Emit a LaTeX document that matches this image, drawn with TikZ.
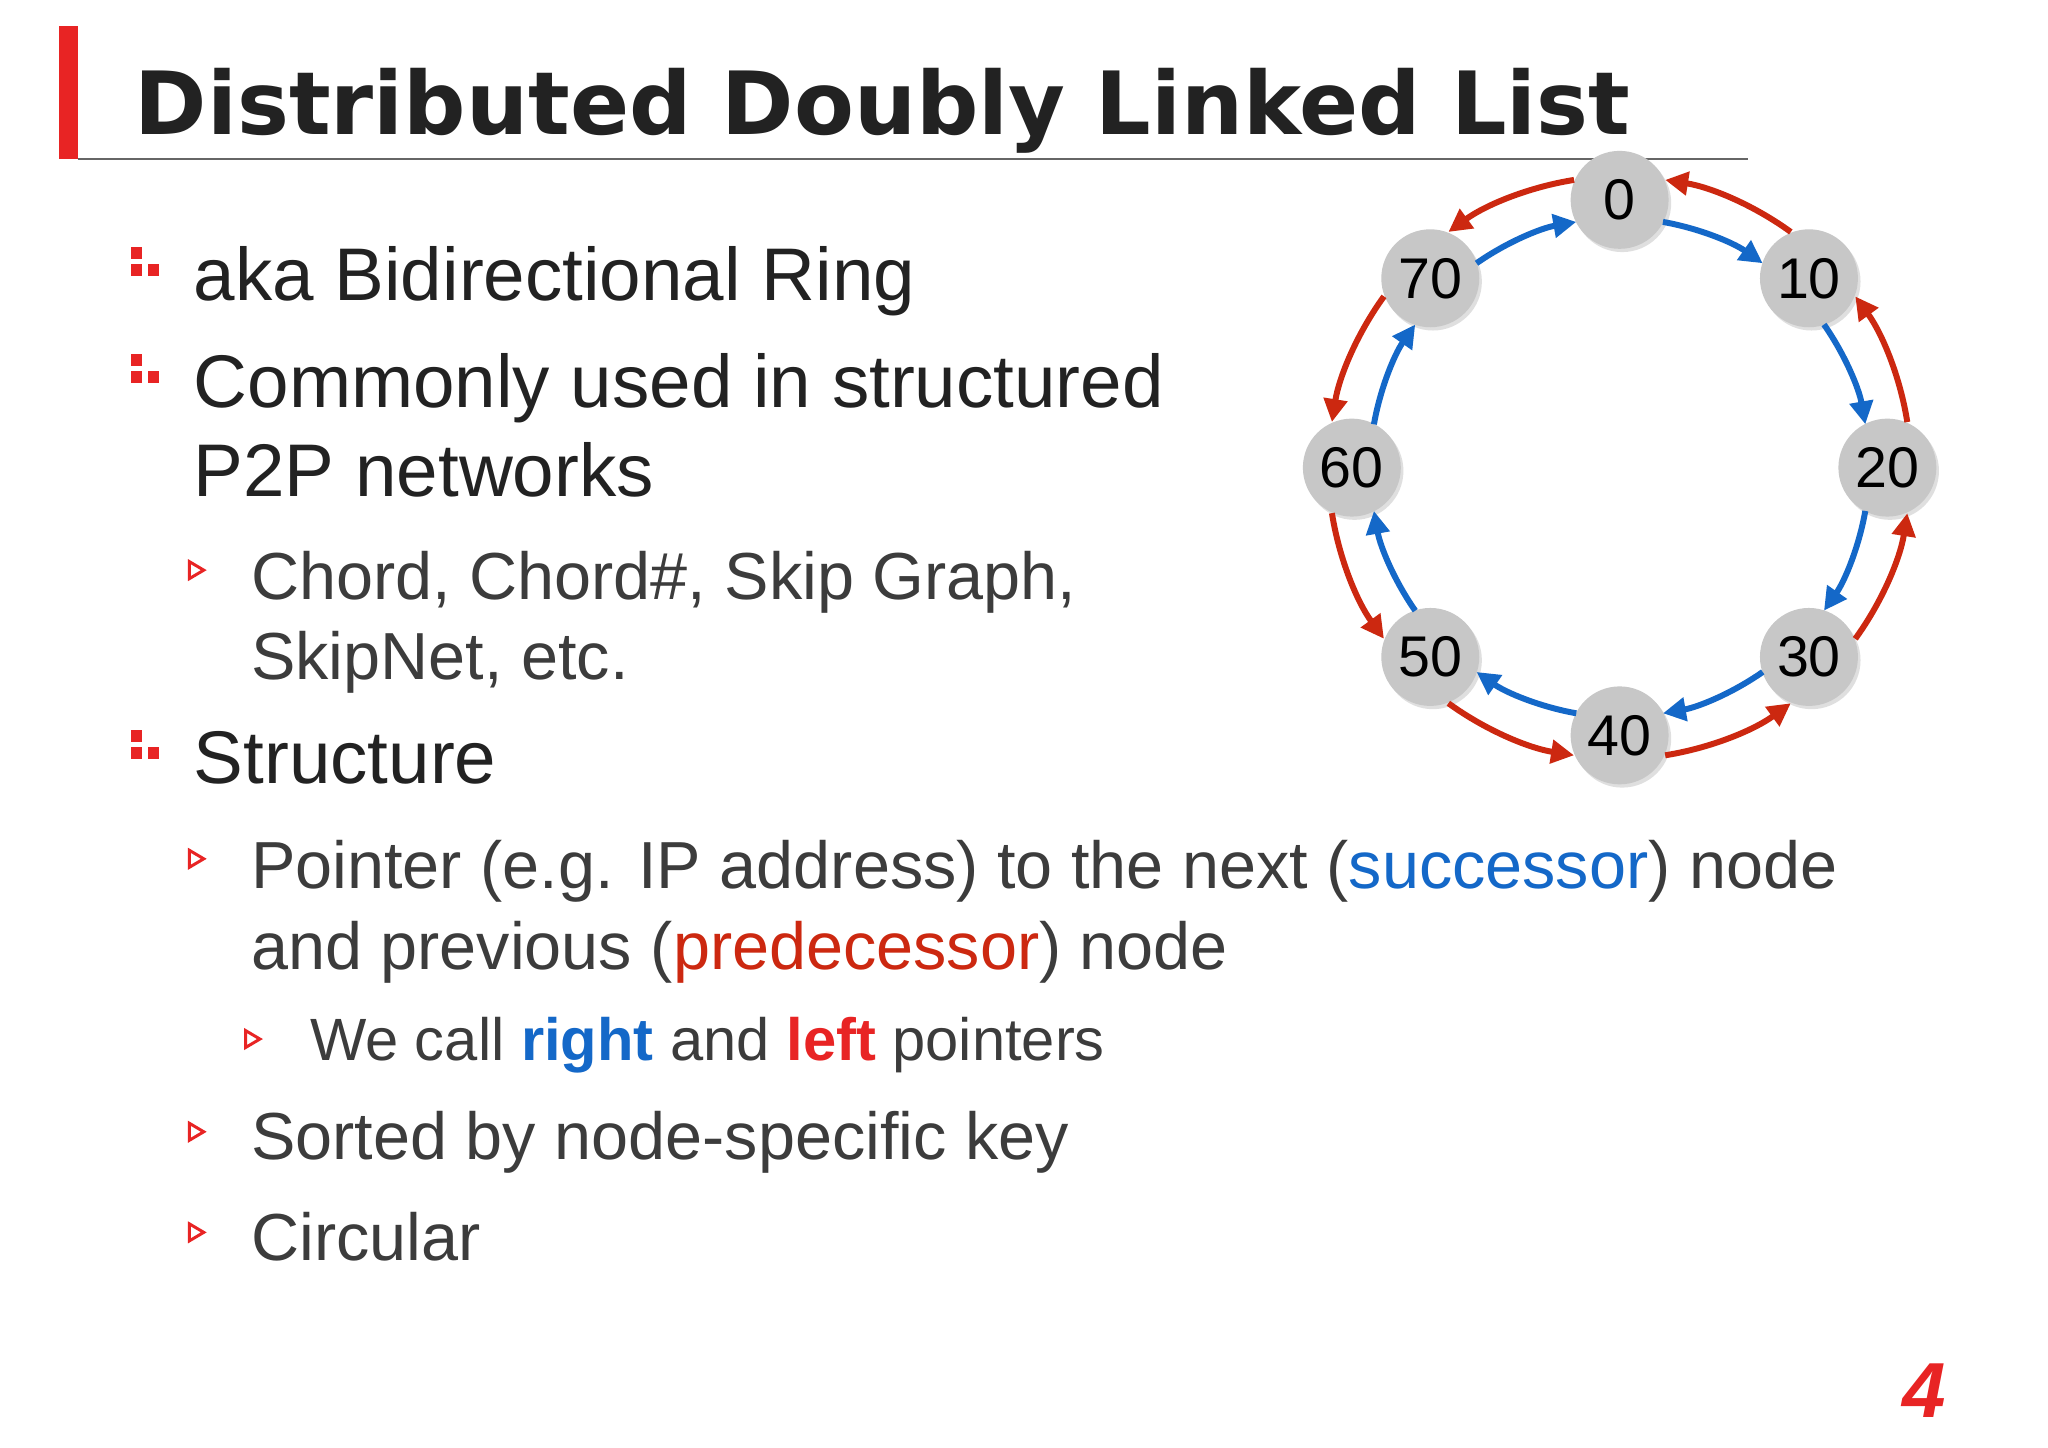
\documentclass[tikz,border=0pt]{standalone}
\usepackage{fontspec}
\setmainfont{Liberation Sans}
\newfontfamily\titlefont{DejaVu Sans}
\usetikzlibrary{arrows.meta,shadows,calc}
\definecolor{myred}{RGB}{204,40,16}
\definecolor{myblue}{RGB}{20,104,200}
\definecolor{bred}{RGB}{232,36,36}
\definecolor{txtA}{RGB}{34,34,34}
\definecolor{txtB}{RGB}{60,60,60}
\tikzset{
 ringnode/.style={circle,fill=black!22,minimum size=1.5cm,inner sep=0pt,font=\fontsize{25}{25}\selectfont,drop shadow={shadow xshift=0.04cm,shadow yshift=-0.05cm,opacity=0.25}},
 succ/.style={myblue,line width=2.6pt,-{Triangle[length=10pt,width=10pt]}},
 pred/.style={myred,line width=2.6pt,-{Triangle[length=10pt,width=10pt]}},
 lone/.style={anchor=base west,inner sep=0pt,text=txtA,font=\fontsize{32.5}{32.5}\selectfont},
 ltwo/.style={anchor=base west,inner sep=0pt,text=txtB,font=\fontsize{29}{29}\selectfont},
 lthree/.style={anchor=base west,inner sep=0pt,text=txtB,font=\fontsize{26}{26}\selectfont},
 sq/.style={fill=bred,draw=none},
 tri/.style={draw=bred,line width=1.3pt,fill=white},
}
\newcommand{\sqmark}[2]{\fill[sq] (#1,#2) rectangle ++(0.18,0.18); \fill[sq] (#1,#2-0.26) rectangle ++(0.18,0.18); \fill[sq] (#1+0.26,#2-0.26) rectangle ++(0.18,0.18);}
\newcommand{\trimark}[2]{\draw[tri] (#1,#2) -- ++(0,0.26) -- ++(0.22,-0.13) -- cycle;}
\begin{document}
\begin{tikzpicture}
\useasboundingbox (0,0) rectangle (31.36,-22.16);
\fill[white] (0,0) rectangle (31.36,-22.16);
% title
\fill[bred] (0.9,-0.4) rectangle (1.2,-2.44);
\draw[black!60,line width=0.8pt] (1.2,-2.44) -- (26.76,-2.44);
\node[anchor=base west,inner sep=0pt,text=txtA,font=\fontsize{38}{38}\selectfont\titlefont\bfseries] (title) at (2.06,-2.06) {Distributed Doubly Linked List};
% bullets
\sqmark{2.0}{-3.96}
\node[lone] (b1) at (2.96,-4.6) {aka Bidirectional Ring};
\sqmark{2.0}{-5.6}
\node[lone] (b2) at (2.96,-6.24) {Commonly used in structured};
\node[lone] (b2b) at (2.96,-7.6) {P2P networks};
\trimark{2.9}{-8.86}
\node[ltwo] (b3) at (3.84,-9.18) {Chord, Chord\#, Skip Graph,};
\node[ltwo] (b3b) at (3.84,-10.4) {SkipNet, etc.};
\sqmark{2.0}{-11.36}
\node[lone] (b4) at (2.96,-12.0) {Structure};
\trimark{2.9}{-13.28}
\node[ltwo] (b5) at (3.84,-13.6) {Pointer (e.g. IP address) to the next ({\color{myblue}successor}) node};
\node[ltwo] (b5b) at (3.84,-14.84) {and previous ({\color{myred}predecessor}) node};
\trimark{3.76}{-16.04}
\node[lthree] (b6) at (4.74,-16.24) {We call {\color{myblue}\bfseries right} and {\color{bred}\bfseries left} pointers};
\trimark{2.9}{-17.46}
\node[ltwo] (b7) at (3.84,-17.76) {Sorted by node-specific key};
\trimark{2.9}{-19.0}
\node[ltwo] (b8) at (3.84,-19.3) {Circular};
\node[text=bred,font=\fontsize{34}{34}\selectfont\bfseries\itshape] (pg) at (29.46,-21.3) {4};
% ring
\coordinate (c) at (24.8,-7.16);
\foreach \v/\a in {0/90,10/45,20/0,30/-45,40/-90,50/-135,60/180,70/135}{
  \node[ringnode] (n\v) at ($(c)+(\a:4.1)$) {\v};
}
\foreach \a in {90,45,0,-45,-90,-135,180,135}{
  \draw[succ] ($(c)+(\a-10:3.82)$) arc[start angle=\a-10,end angle=\a-35,radius=3.82];
  \draw[pred] ($(c)+(\a-36:4.46)$) arc[start angle=\a-36,end angle=\a-9,radius=4.46];
}
\end{tikzpicture}
\end{document}
